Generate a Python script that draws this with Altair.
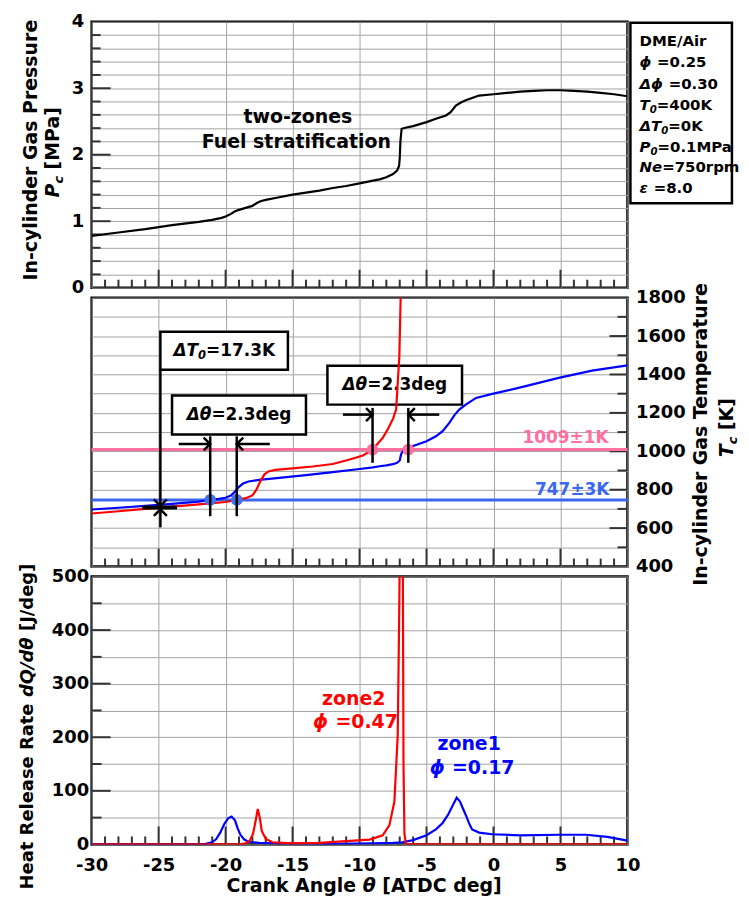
import altair as alt
import pandas as pd

FONT = "DejaVu Sans"

# ---------------- data ----------------
theta_p = [-30, -28, -26, -25, -24, -22, -21, -20.3, -20, -19.6, -19.3, -19.0, -18.5, -18.0,
           -17.7, -17.4, -17.0, -16, -15, -14, -13, -12, -11, -10, -9, -8.5, -8, -7.5, -7.2,
           -7.05, -7.0, -6.95, -6.86, -6.5, -6, -5, -4.3, -3.55, -3.2, -2.81, -2.4, -2.07,
           -1.5, -1.08, 0, 1, 2, 3, 4, 5, 6, 7, 8, 9, 10]
pressure = [0.78, 0.83, 0.88, 0.91, 0.94, 0.99, 1.02, 1.05, 1.07, 1.11, 1.15, 1.17, 1.20, 1.23,
            1.27, 1.30, 1.32, 1.36, 1.40, 1.43, 1.46, 1.50, 1.53, 1.57, 1.61, 1.63, 1.66, 1.71, 1.76,
            1.83, 1.95, 2.2, 2.39, 2.41, 2.43, 2.49, 2.54, 2.59, 2.64, 2.74, 2.79, 2.82,
            2.86, 2.89, 2.91, 2.93, 2.95, 2.96, 2.97, 2.97, 2.96, 2.95, 2.93, 2.91, 2.88]

theta_t1 = [-30, -28, -26, -24, -22, -21.15, -20.5, -20.0, -19.6, -19.3, -19.0, -18.7, -18.3,
            -17.5, -16, -14, -12, -10, -9, -8.5, -8, -7.5, -7.2, -7.0, -6.9, -6.75, -6.36,
            -6.05, -5, -4.3, -3.8, -3.3, -2.9, -2.56, -2.07, -1.3, -0.09, 2.4, 4.87, 7.35, 10]
temp_zone1 = [697, 706, 716, 726, 738, 747, 752, 758, 770, 790, 815, 832, 843,
              851, 862, 876, 892, 908, 916, 922, 927, 933, 940, 952, 985, 1003, 1009,
              1026, 1052, 1078, 1105, 1148, 1190, 1217, 1243, 1278, 1299, 1339, 1382, 1420, 1447]

theta_t2 = [-30, -28, -26, -24, -22, -20, -19.17, -18.5, -18.0, -17.7, -17.4, -17.1, -16.8,
            -16.3, -15, -13.5, -12, -10.74, -9.75, -9.03, -8.27, -7.9, -7.5, -7.27, -7.15,
            -7.03, -6.9]
temp_zone2 = [676, 688, 700, 712, 724, 736, 747, 756, 770, 800, 845, 880, 895,
              903, 911, 921, 934, 957, 978, 1009, 1070, 1113, 1170, 1217, 1357,
              1495, 1900]

theta_h1 = [-30, -22, -21.5, -21, -20.7, -20.4, -20.1, -19.8, -19.55, -19.3, -19.1, -18.9,
            -18.6, -18.3, -17.5, -16, -12, -9, -7.5, -6.8, -6, -5, -4.3, -3.8, -3.4, -3.0,
            -2.75, -2.5, -2.3, -2.07, -1.8, -1.6, -1.08, -0.1, 2, 4.9, 6.9, 8.5, 10]
hrr_zone1 = [0, 0, 1, 4, 10, 22, 38, 49, 52, 45, 30, 18,
             9, 5, 3, 2, 1, 2, 3, 4, 8, 17, 28, 40, 55, 75,
             87, 80, 68, 55, 38, 28, 22, 19, 17, 18, 18, 14, 7]

theta_h2 = [-30, -19, -18.5, -18.2, -17.95, -17.75, -17.6, -17.45, -17.3, -17.0, -16.5, -15,
            -13, -11, -9.26, -8.27, -7.77, -7.4, -7.15, -7.03, -6.95, -6.85, -6.78, -6.72,
            -6.65, -6.55, -6.45, 10]
hrr_zone2 = [0, 0, 2, 7, 20, 45, 66, 50, 25, 10, 4, 2,
             3, 6, 9, 17, 36, 80, 204, 453, 700, 900, 600, 150,
             20, 3, 0, 0]

# reference temperature levels and crossing points
ref_T = [747, 1009]
ref_colors = ["#3a66f0", "#ff6f9f"]
mark_theta = [-21.15, -19.17, -9.03, -6.36]
mark_T = [747, 747, 1009, 1009]
mark_colors = ["#4172ea", "#4172ea", "#ff6f9f", "#ff6f9f"]

# annotation brackets (crank angle / temperature)
vline_theta = [-21.15, -19.17, -9.03, -6.36, -24.87, -24.87]
vline_lo = [662, 662, 940, 940, 716, 604]
vline_hi = [1078, 1078, 1226, 1226, 1425, 698]
harrow_from = [-23.5, -16.7, -11.24, -4.05]
harrow_to = [-21.15, -19.17, -9.03, -6.36]
harrow_T = [1038, 1038, 1191, 1191]
bar_from, bar_to, bar_T = [-26.23], [-23.63], [707]
box_x1 = [-24.87, -24.0, -12.4]
box_x2 = [-15.35, -14.0, -2.35]
box_T1 = [1425, 1087, 1243]
box_T2 = [1623, 1290, 1446]

# ---------------- layout constants ----------------
W = 538
H_TOP, H_MID, H_BOT = 267, 270, 269
PX = W / 40.0
PY_TOP = H_TOP / 4.0
PY_MID = H_MID / 1400.0
PY_BOT = H_BOT / 500.0

ADV = {' ': .348, '-': .415, '.': .380, '/': .365, '=': .838, '±': .838, '[': .457, ']': .457,
       'A': .774, 'C': .734, 'D': .830, 'E': .683, 'F': .683, 'G': .821, 'H': .837, 'I': .372,
       'J': .372, 'K': .775, 'M': .995, 'N': .837, 'P': .733, 'Q': .850, 'R': .770, 'T': .682,
       'a': .675, 'c': .593, 'd': .716, 'e': .678, 'f': .435, 'g': .716, 'i': .343, 'k': .665,
       'l': .343, 'm': 1.042, 'n': .712, 'o': .687, 'p': .716, 'r': .493, 's': .595, 't': .478,
       'u': .712, 'y': .652, 'z': .582, 'Δ': .774, 'θ': .687, 'ϕ': .83, 'ε': .60}


def tw(s, size):
    return sum(ADV.get(c, .696) for c in s) * size


def rich(segs, size, cx, cy, ppy, color="black", align="center", rotate=False):
    sizes = [size * 0.68 if k == "s" else size for _, k in segs]
    widths = [tw(t, s) for (t, _), s in zip(segs, sizes)]
    total = sum(widths)
    cur = -total / 2 if align == "center" else (-total if align == "right" else 0)
    rows = []
    for (t, k), s, w in zip(segs, sizes, widths):
        lead = len(t) - len(t.lstrip(" "))
        off = cur + tw(" " * lead, s)
        sub = 0.32 * size if k == "s" else 0
        if rotate:
            x, y = cx + sub / PX, cy + off / ppy
        else:
            x, y = cx + off / PX, cy - sub / ppy
        rows.append(dict(x=x, y=y, text=t.strip(" "), kind="n" if k == "n" else "i",
                         fs=s, ang=270 if rotate else 0, col=color))
        cur += w
    return rows


XS = alt.Scale(domain=[-30, 10], nice=False, zero=False)
GRID = "#a3a3a3"


def x_axis(labels):
    return alt.Axis(values=list(range(-30, 11, 5)), grid=True, gridColor=GRID, gridWidth=1,
                    ticks=False, domain=False, labels=labels, labelExpr="datum.value + ''",
                    labelFlush=False, labelOverlap=False,
                    labelFont=FONT, labelFontSize=18, labelFontWeight="bold", labelColor="black",
                    labelPadding=12, title=None)


def y_axis(values, expr, orient="left", pad=6):
    return alt.Axis(values=values, grid=True, gridColor=GRID, gridWidth=1, ticks=False,
                    domain=False, labelExpr=expr, orient=orient, labelFont=FONT,
                    labelFlush=False, labelOverlap=False,
                    labelFontSize=18, labelFontWeight="bold", labelColor="black",
                    labelPadding=pad, title=None)


def text_layers(rows, xe, ye):
    base = alt.Chart(pd.DataFrame(rows)).encode(
        x=xe, y=ye, text="text:N", size=alt.Size("fs:Q", scale=None),
        angle=alt.Angle("ang:Q", scale=None), color=alt.Color("col:N", scale=None))
    n = base.transform_filter(alt.datum.kind == "n").mark_text(
        align="left", baseline="middle", font=FONT, fontWeight="bold")
    i = base.transform_filter(alt.datum.kind == "i").mark_text(
        align="left", baseline="middle", font=FONT, fontWeight="bold", fontStyle="italic")
    return [n, i]


def tick_frame(xmin_y, minor_len, major_len, y_vals, y_major, x_edge, y_minor_len, y_major_len,
               ppy, right=False):
    rows = []
    for v in range(-29, 10):
        ln = major_len if v % 5 == 0 else minor_len
        rows.append(dict(x=v, x2=v, y=xmin_y, y2=xmin_y + ln / ppy))
    for v in y_vals:
        ln = y_major_len if v in y_major else y_minor_len
        rows.append(dict(x=x_edge, x2=x_edge + (-ln if right else ln) / PX, y=v, y2=v))
    return pd.DataFrame(rows)


# ================= top panel: pressure =================
xt = alt.X("x:Q", scale=XS, axis=x_axis(False))
yt = alt.Y("y:Q", scale=alt.Scale(domain=[0, 4], nice=False, zero=False),
           axis=y_axis([round(0.2 * i, 1) for i in range(21)],
                       "abs(datum.value - round(datum.value)) < 0.001 ? round(datum.value) + '' : ''",
                       pad=8))

p_df = pd.DataFrame({"x": theta_p, "y": pressure})
top_ticks = tick_frame(0, 8, 18, [round(0.2 * i, 1) for i in range(1, 20)], [1.0, 2.0, 3.0],
                       -30, 9, 19, PY_TOP)

legend_box = pd.DataFrame({"x": [10.22], "x2": [17.8], "y": [1.27], "y2": [3.985]})
legend_lines = [
    [("DME/Air", "n")],
    [("ϕ", "i"), (" =0.25", "n")],
    [("Δϕ", "i"), (" =0.30", "n")],
    [("T", "i"), ("0", "s"), ("=400K", "n")],
    [("ΔT", "i"), ("0", "s"), ("=0K", "n")],
    [("P", "i"), ("0", "s"), ("=0.1MPa", "n")],
    [("Ne", "i"), ("=750rpm", "n")],
    [("ε", "i"), (" =8.0", "n")],
]
legend_y = [3.716, 3.388, 3.06, 2.746, 2.433, 2.119, 1.821, 1.493]

top_rows = []
for segs, yy in zip(legend_lines, legend_y):
    top_rows += rich(segs, 15, 10.9, yy, PY_TOP, align="left")
top_rows += rich([("two-zones", "n")], 19, -14.76, 2.57, PY_TOP)
top_rows += rich([("Fuel stratification", "n")], 19, -14.65, 2.19, PY_TOP)
top_rows += rich([("In-cylinder Gas Pressure", "n")], 19, -34.53, 2.07, PY_TOP, rotate=True)
top_rows += rich([("P", "i"), ("c", "s"), (" [MPa]", "n")], 19, -32.9, 2.04, PY_TOP, rotate=True)

top = alt.layer(
    alt.Chart(top_ticks).mark_rule(color="#333333", strokeWidth=2).encode(
        x=xt, x2="x2:Q", y=yt, y2="y2:Q"),
    alt.Chart(p_df).mark_line(color="black", strokeWidth=2.2, clip=True).encode(x=xt, y=yt),
    alt.Chart(legend_box).mark_rect(fill="white", stroke="black", strokeWidth=2.5).encode(
        x=xt, x2="x2:Q", y=yt, y2="y2:Q"),
    *text_layers(top_rows, xt, yt),
).properties(width=W, height=H_TOP)

# ================= middle panel: temperature =================
xm = alt.X("x:Q", scale=XS, axis=x_axis(False))
ym = alt.Y("y:Q", scale=alt.Scale(domain=[400, 1800], nice=False, zero=False),
           axis=y_axis(list(range(400, 1801, 100)),
                       "datum.value % 200 == 0 ? datum.value + '' : ''", orient="right", pad=8))

t1_df = pd.DataFrame({"x": theta_t1, "y": temp_zone1})
t2_df = pd.DataFrame({"x": theta_t2, "y": temp_zone2})
ref_df = pd.DataFrame({"x": [-30, -30], "x2": [10, 10], "y": ref_T, "col": ref_colors})
mk_df = pd.DataFrame({"x": mark_theta, "y": mark_T, "col": mark_colors})
mid_ticks = tick_frame(400, 8, 18, list(range(500, 1800, 100)), [600, 800, 1000, 1200, 1400, 1600],
                       10, 10, 18, PY_MID, right=True)
vl_df = pd.DataFrame({"x": vline_theta, "y": vline_lo, "y2": vline_hi})
ha_df = pd.DataFrame({"x": harrow_from, "x2": harrow_to, "y": harrow_T})
bar_df = pd.DataFrame({"x": bar_from, "x2": bar_to, "y": bar_T})
box_df = pd.DataFrame({"x": box_x1, "x2": box_x2, "y": box_T1, "y2": box_T2})
head_right = pd.DataFrame({"x": [harrow_to[0], harrow_to[2]], "y": [harrow_T[0], harrow_T[2]]})
head_left = pd.DataFrame({"x": [harrow_to[1], harrow_to[3]], "y": [harrow_T[1], harrow_T[3]]})
head_down = pd.DataFrame({"x": [vline_theta[4]], "y": [vline_lo[4]]})
head_up = pd.DataFrame({"x": [vline_theta[5]], "y": [vline_hi[5]]})

mid_rows = []
mid_rows += rich([("ΔT", "i"), ("0", "s"), ("=17.3K", "n")], 17, -20.1, 1524, PY_MID)
mid_rows += rich([("Δθ", "i"), ("=2.3deg", "n")], 17, -19.0, 1188, PY_MID)
mid_rows += rich([("Δθ", "i"), ("=2.3deg", "n")], 17, -7.37, 1345, PY_MID)
mid_rows += rich([("1009±1K", "n")], 17, 8.6, 1071, PY_MID, color="#ff6f9f", align="right")
mid_rows += rich([("747±3K", "n")], 17, 8.66, 800, PY_MID, color="#3a66f0", align="right")
mid_rows += rich([("In-cylinder Gas Temperature", "n")], 19, 15.5, 1095, PY_MID, rotate=True)
mid_rows += rich([("T", "i"), ("c", "s"), (" [K]", "n")], 19, 17.4, 1123, PY_MID, rotate=True)


def head(df, path):
    return alt.Chart(df).mark_point(shape=path, filled=False, size=170, strokeWidth=2.5,
                                    color="black", opacity=1).encode(x=xm, y=ym)


mid = alt.layer(
    alt.Chart(mid_ticks).mark_rule(color="#333333", strokeWidth=2).encode(
        x=xm, x2="x2:Q", y=ym, y2="y2:Q"),
    alt.Chart(box_df).mark_rect(fill="white", stroke="black", strokeWidth=2.5).encode(
        x=xm, x2="x2:Q", y=ym, y2="y2:Q"),
    *text_layers(mid_rows, xm, ym),
    alt.Chart(ref_df).mark_rule(strokeWidth=3).encode(
        x=xm, x2="x2:Q", y=ym, color=alt.Color("col:N", scale=None)),
    alt.Chart(t1_df).mark_line(color="#0000ff", strokeWidth=2.2, clip=True).encode(x=xm, y=ym),
    alt.Chart(t2_df).mark_line(color="#ff0000", strokeWidth=2.2, clip=True).encode(x=xm, y=ym),
    alt.Chart(mk_df).mark_circle(size=140, opacity=1).encode(
        x=xm, y=ym, color=alt.Color("col:N", scale=None)),
    alt.Chart(vl_df).mark_rule(color="black", strokeWidth=2.5).encode(x=xm, y=ym, y2="y2:Q"),
    alt.Chart(ha_df).mark_rule(color="black", strokeWidth=2.5).encode(x=xm, x2="x2:Q", y=ym),
    alt.Chart(bar_df).mark_rule(color="black", strokeWidth=4).encode(x=xm, x2="x2:Q", y=ym),
    head(head_right, "M-1,-1L0,0L-1,1"),
    head(head_left, "M1,-1L0,0L1,1"),
    head(head_down, "M-1,-1L0,0L1,-1"),
    head(head_up, "M-1,1L0,0L1,1"),
).properties(width=W, height=H_MID)

# ================= bottom panel: heat release rate =================
xb = alt.X("x:Q", scale=XS, axis=x_axis(True))
yb = alt.Y("y:Q", scale=alt.Scale(domain=[0, 500], nice=False, zero=False),
           axis=y_axis(list(range(0, 501, 50)),
                       "datum.value % 100 == 0 ? datum.value + '' : ''", pad=3))

h1_df = pd.DataFrame({"x": theta_h1, "y": hrr_zone1})
h2_df = pd.DataFrame({"x": theta_h2, "y": hrr_zone2})
bot_ticks = tick_frame(0, 8, 18, list(range(50, 500, 50)), [100, 200, 300, 400],
                       -30, 10, 19, PY_BOT)

bot_rows = []
bot_rows += rich([("zone2", "n")], 19, -10.44, 272, PY_BOT, color="#ff0000")
bot_rows += rich([("ϕ", "i"), (" =0.47", "n")], 19, -10.3, 229, PY_BOT, color="#ff0000")
bot_rows += rich([("zone1", "n")], 19, -1.82, 188, PY_BOT, color="#0000ff")
bot_rows += rich([("ϕ", "i"), (" =0.17", "n")], 19, -1.6, 142, PY_BOT, color="#0000ff")
bot_rows += rich([("Heat Release Rate ", "n"), ("dQ/dθ", "i"), (" [J/deg]", "n")], 18,
                 -34.76, 220, PY_BOT, rotate=True)
bot_rows += rich([("Crank Angle ", "n"), ("θ", "i"), (" [ATDC deg]", "n")], 19,
                 -9.6, -78, PY_BOT)

bot = alt.layer(
    alt.Chart(bot_ticks).mark_rule(color="#333333", strokeWidth=2).encode(
        x=xb, x2="x2:Q", y=yb, y2="y2:Q"),
    alt.Chart(h1_df).mark_line(color="#0000ff", strokeWidth=2.2, clip=True).encode(x=xb, y=yb),
    alt.Chart(h2_df).mark_line(color="#ff0000", strokeWidth=2.2, clip=True).encode(x=xb, y=yb),
    *text_layers(bot_rows, xb, yb),
).properties(width=W, height=H_BOT)

chart = alt.vconcat(top, mid, bot, spacing=10, bounds="flush").properties(
    padding={"left": 9, "top": 1, "right": 0, "bottom": 0}
).configure_view(stroke="black", strokeWidth=2.5)

chart.save("out.html", embed_options={"renderer": "svg", "actions": False})
